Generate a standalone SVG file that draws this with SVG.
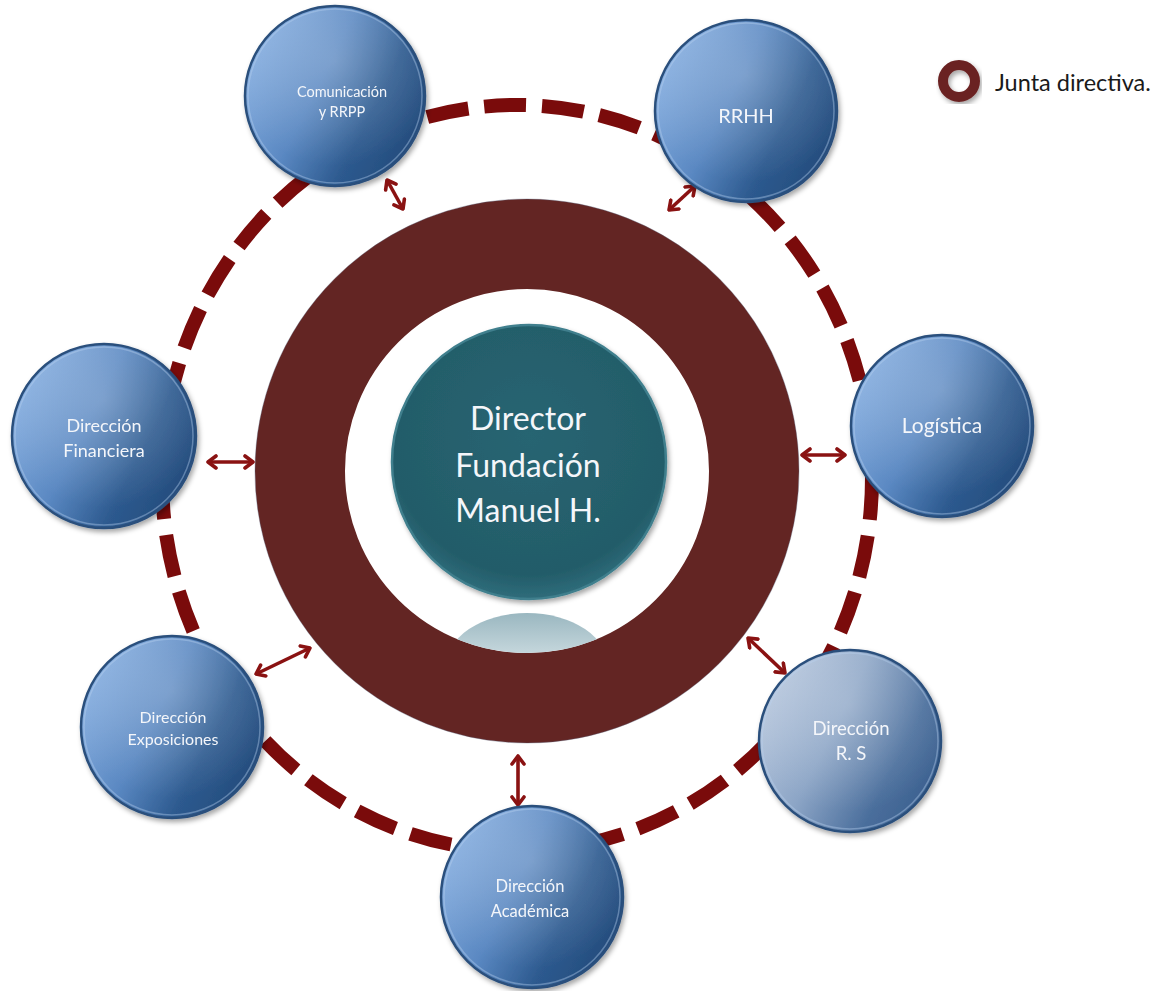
<svg xmlns="http://www.w3.org/2000/svg" width="1174" height="991" viewBox="0 0 1174 991">
<style>
.lbl{font-family:Lato,"Open Sans","Noto Sans",sans-serif;fill:#f4f6fa;text-anchor:middle}
.node{fill:url(#blueG);stroke:#2a4f7c;stroke-width:2.5}
.rim{fill:none;stroke:#b9d2f0;stroke-opacity:0.4;stroke-width:1.5}
.hl{fill:url(#hlG)}
.arr{stroke:#8a1212;stroke-width:3.6;fill:none;marker-start:url(#ah);marker-end:url(#ah)}
</style>
<defs>
<linearGradient id="blueG" x1="0" y1="0.25" x2="1" y2="0.75">
<stop offset="0" stop-color="#8cb3e3"/>
<stop offset="0.4" stop-color="#5a88c2"/>
<stop offset="0.7" stop-color="#2d5a8f"/>
<stop offset="1" stop-color="#234a7a"/>
</linearGradient>
<linearGradient id="grayG" x1="0" y1="0.25" x2="1" y2="0.75">
<stop offset="0" stop-color="#bccbe0"/>
<stop offset="0.4" stop-color="#8ca5c6"/>
<stop offset="0.75" stop-color="#4a6e9c"/>
<stop offset="1" stop-color="#3a5f8e"/>
</linearGradient>
<radialGradient id="hlG" cx="0.5" cy="0.3" r="0.6">
<stop offset="0" stop-color="#ffffff" stop-opacity="0.22"/>
<stop offset="0.6" stop-color="#ffffff" stop-opacity="0.1"/>
<stop offset="1" stop-color="#ffffff" stop-opacity="0"/>
</radialGradient>
<radialGradient id="tealG" cx="0.5" cy="0.4" r="0.6">
<stop offset="0" stop-color="#286572"/>
<stop offset="0.85" stop-color="#235c69"/>
<stop offset="1" stop-color="#2f6d7b"/>
</radialGradient>
<linearGradient id="reflG" x1="0" y1="0" x2="0" y2="1">
<stop offset="0" stop-color="#9ab7c0"/>
<stop offset="0.65" stop-color="#e6eff2"/>
<stop offset="1" stop-color="#ffffff"/>
</linearGradient>
<clipPath id="innerClip"><circle cx="527" cy="471" r="182"/></clipPath>
<filter id="sh" x="-20%" y="-20%" width="140%" height="140%">
<feDropShadow dx="2" dy="3" stdDeviation="2.5" flood-color="#000" flood-opacity="0.35"/>
</filter>
<marker id="ah" viewBox="0 0 12 16" refX="10" refY="8" markerWidth="12" markerHeight="16" markerUnits="userSpaceOnUse" orient="auto-start-reverse">
<path d="M2,2 L10,8 L2,14" fill="none" stroke="#8a1212" stroke-width="3.6" stroke-linecap="round" stroke-linejoin="round"/>
</marker>
</defs>

<rect width="1174" height="991" fill="#ffffff"/>

<g id="junta-directiva-ring">
<ellipse cx="517" cy="478" rx="355" ry="373" fill="none" stroke="#7a0b0b" stroke-width="14" stroke-dasharray="42 16"/>
</g>

<g id="ring">
<circle cx="527" cy="471" r="227" fill="none" stroke="#632523" stroke-width="90"/>
<circle cx="527" cy="471" r="272" fill="none" stroke="#55607a" stroke-opacity="0.35" stroke-width="1"/>
</g>

<g id="director">
<ellipse cx="527" cy="668" rx="82" ry="55" fill="url(#reflG)" clip-path="url(#innerClip)"/>
<circle cx="529" cy="462" r="137" fill="url(#tealG)" stroke="#3f7f8d" stroke-width="2.5" filter="url(#sh)"/>
<text class="lbl" font-size="32"><tspan x="528" y="430">Director</tspan><tspan x="528" y="477">Fundación</tspan><tspan x="528" y="522">Manuel H.</tspan></text>
</g>

<g id="connectors">
<line class="arr" x1="387" y1="180" x2="403" y2="209"/>
<line class="arr" x1="669" y1="210" x2="695" y2="186"/>
<line class="arr" x1="208" y1="462" x2="253" y2="462"/>
<line class="arr" x1="802" y1="455" x2="845" y2="455"/>
<line class="arr" x1="256" y1="674" x2="310" y2="648"/>
<line class="arr" x1="518" y1="756" x2="518" y2="805"/>
<line class="arr" x1="748" y1="638" x2="785" y2="673"/>
</g>

<g id="node-comunicacion" filter="url(#sh)">
<circle class="node" cx="335" cy="96" r="90"/>
<circle class="hl" cx="335" cy="96" r="88"/>
<circle class="rim" cx="335" cy="96" r="87"/>
<text class="lbl" font-size="14.5"><tspan x="342" y="97">Comunicación</tspan><tspan x="342" y="117">y RRPP</tspan></text>
</g>

<g id="node-rrhh" filter="url(#sh)">
<circle class="node" cx="746" cy="111" r="91"/>
<circle class="hl" cx="746" cy="111" r="89"/>
<circle class="rim" cx="746" cy="111" r="88"/>
<text class="lbl" font-size="20" x="746" y="123">RRHH</text>
</g>

<g id="node-logistica" filter="url(#sh)">
<circle class="node" cx="942" cy="426" r="91"/>
<circle class="hl" cx="942" cy="426" r="89"/>
<circle class="rim" cx="942" cy="426" r="88"/>
<text class="lbl" font-size="21" x="942" y="433">Logística</text>
</g>

<g id="node-financiera" filter="url(#sh)">
<circle class="node" cx="104" cy="436" r="92"/>
<circle class="hl" cx="104" cy="436" r="90"/>
<circle class="rim" cx="104" cy="436" r="89"/>
<text class="lbl" font-size="18"><tspan x="104" y="432">Dirección</tspan><tspan x="104" y="457">Financiera</tspan></text>
</g>

<g id="node-exposiciones" filter="url(#sh)">
<circle class="node" cx="172" cy="727" r="91"/>
<circle class="hl" cx="172" cy="727" r="89"/>
<circle class="rim" cx="172" cy="727" r="88"/>
<text class="lbl" font-size="16"><tspan x="173" y="723">Dirección</tspan><tspan x="173" y="745">Exposiciones</tspan></text>
</g>

<g id="node-academica" filter="url(#sh)">
<circle class="node" cx="532" cy="897" r="91"/>
<circle class="hl" cx="532" cy="897" r="89"/>
<circle class="rim" cx="532" cy="897" r="88"/>
<text class="lbl" font-size="16.5"><tspan x="530" y="892">Dirección</tspan><tspan x="530" y="917">Académica</tspan></text>
</g>

<g id="node-rs" filter="url(#sh)">
<circle class="node" cx="850" cy="741" r="91" style="fill:url(#grayG)"/>
<circle class="hl" cx="850" cy="741" r="89"/>
<circle class="rim" cx="850" cy="741" r="88"/>
<text class="lbl" font-size="18.5"><tspan x="851" y="735">Dirección</tspan><tspan x="851" y="760">R. S</tspan></text>
</g>

<g id="legend">
<circle cx="959" cy="81" r="16" fill="none" stroke="#6b2424" stroke-width="10" filter="url(#sh)"/>
<text x="995" y="91" font-family="Lato,'Open Sans','Noto Sans',sans-serif" font-size="23.5" fill="#1a1a1a">Junta directiva.</text>
</g>
</svg>
